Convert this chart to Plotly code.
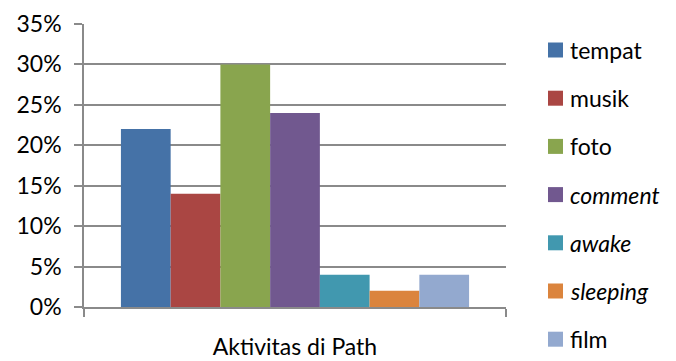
import plotly.graph_objects as go

category = ["Aktivitas di Path"]
series_names = ["tempat", "musik", "foto", "<i>comment</i>", "<i>awake</i>", "<i>sleeping</i>", "film"]
series_values = [0.22, 0.14, 0.30, 0.24, 0.04, 0.02, 0.04]
colors = ["#4572A7", "#AA4643", "#89A54E", "#71588F", "#4198AF", "#DB843D", "#93A9CF"]
y_tickvals = [0, 0.05, 0.10, 0.15, 0.20, 0.25, 0.30, 0.35]

FONT = "Lato"
FS = 23
W, H = 676, 361
ML, MR, MT, MB = 84, 170, 24, 54
PW, PH = W - ML - MR, H - MT - MB


def px_x(x):
    return (x - ML) / PW


def px_y(y):
    return (H - MB - y) / PH


fig = go.Figure()
for n, v, c in zip(series_names, series_values, colors):
    fig.add_trace(go.Bar(x=category, y=[v], name=n, marker=dict(color=c, line=dict(width=0))))

# legend drawn in the right margin (one entry per series)
for i, (n, c) in enumerate(zip(series_names, colors)):
    cy = 50 + 48.2 * i
    fig.add_shape(type="rect", xref="paper", yref="paper",
                  x0=px_x(548), x1=px_x(563), y0=px_y(cy + 7.5), y1=px_y(cy - 7.5),
                  fillcolor=c, line=dict(width=0))
    fig.add_annotation(xref="paper", yref="paper", x=px_x(568), y=px_y(cy),
                       xanchor="left", yanchor="middle", text=n, showarrow=False,
                       font=dict(family=FONT, size=FS, color="black"))

fig.update_layout(
    width=W, height=H,
    margin=dict(l=ML, r=MR, t=MT, b=MB, autoexpand=False),
    paper_bgcolor="white", plot_bgcolor="white",
    barmode="group", bargap=0.175, bargroupgap=0,
    font=dict(family=FONT, size=FS, color="black"),
    showlegend=False,
)
fig.update_yaxes(range=[0, 0.35], tickvals=y_tickvals, tickformat=".0%",
                 showgrid=True, gridcolor="#8a8a8a", gridwidth=1.5,
                 showline=True, linecolor="#8a8a8a", linewidth=1.5,
                 ticks="outside", ticklen=8, tickcolor="#8a8a8a", tickwidth=1.5,
                 zeroline=False, ticklabelstandoff=8, automargin=False)
fig.update_xaxes(showline=True, linecolor="#8a8a8a", linewidth=1.5,
                 ticks="outside", ticklen=8, tickcolor="#8a8a8a", tickwidth=1.5,
                 tickson="boundaries", ticklabelstandoff=19, automargin=False,
                 showgrid=False, mirror=False)

fig.write_html("out.html")
